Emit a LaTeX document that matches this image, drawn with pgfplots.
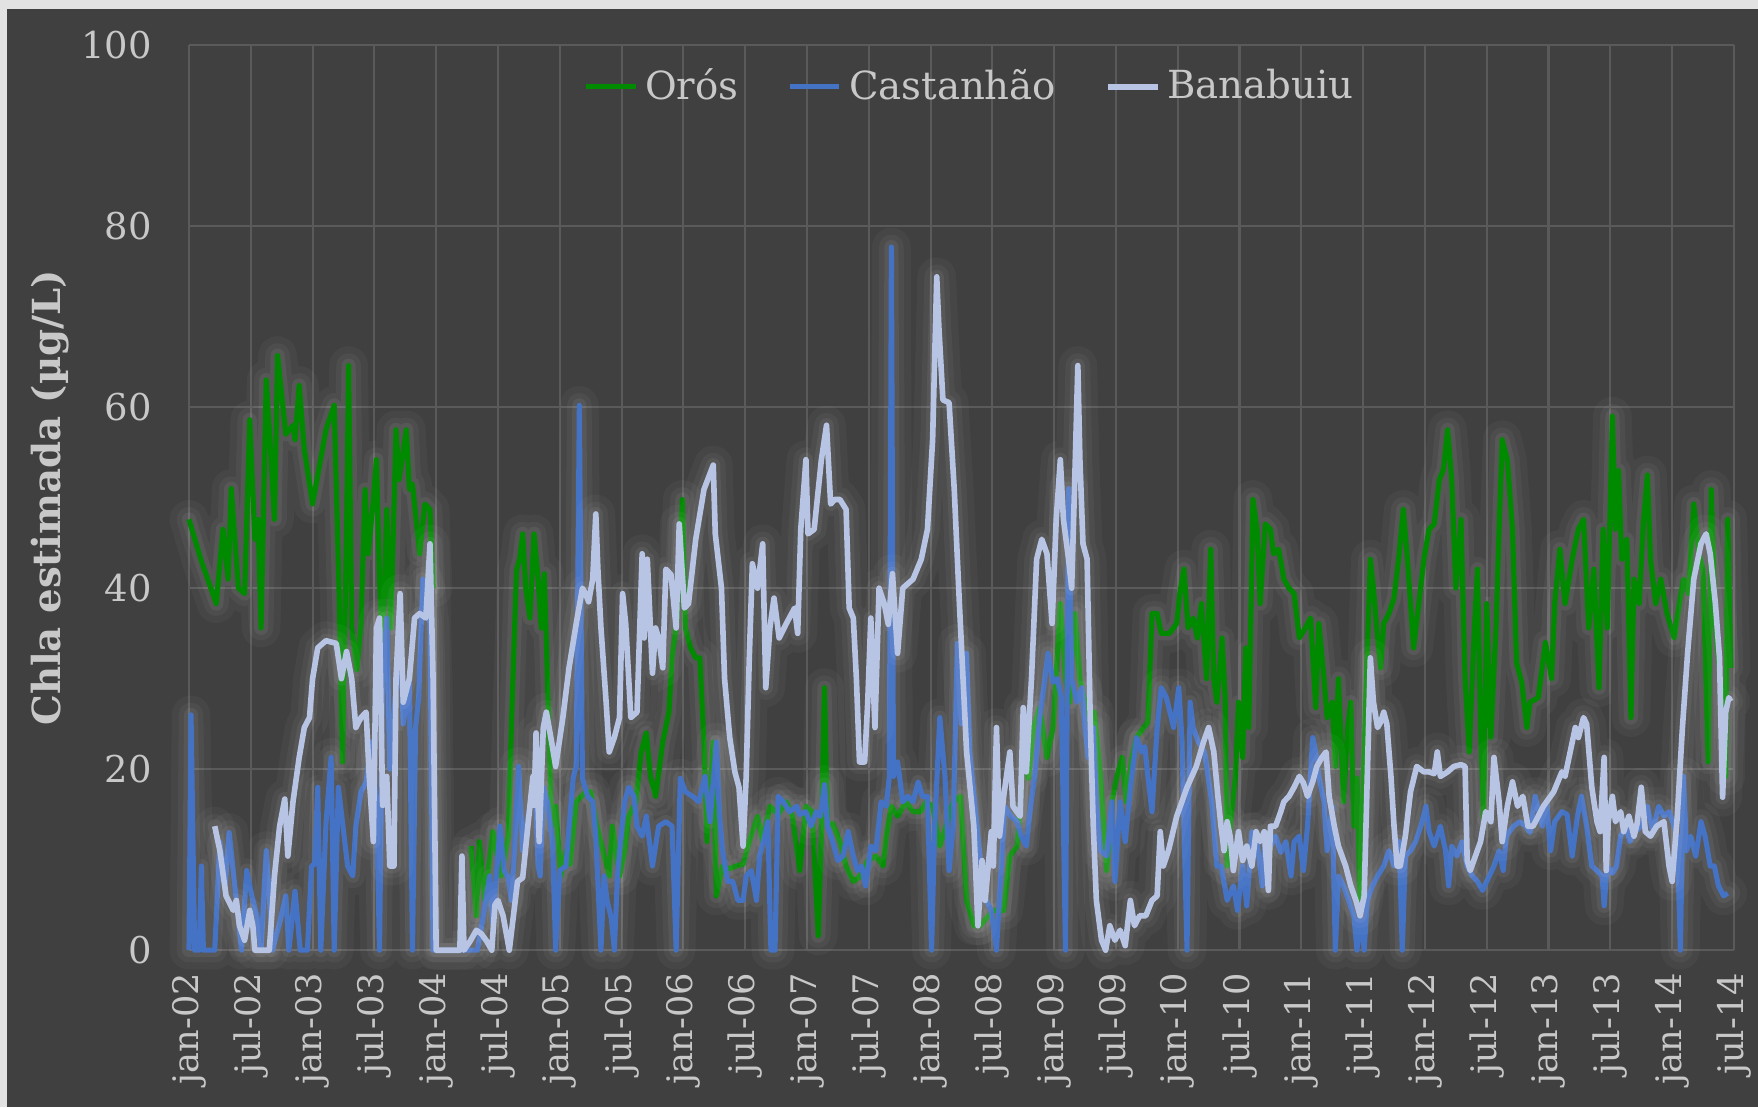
\documentclass[border=0pt]{standalone}
\usepackage{fontspec}
\setmainfont{DejaVu Serif}
\usepackage{pgfplots}
\usepackage{pgfplotstable}
\pgfplotsset{compat=1.18}

\definecolor{bg}{HTML}{404040}
\definecolor{edge}{HTML}{E2E2E2}
\definecolor{grd}{HTML}{5A5A5A}
\definecolor{axl}{HTML}{7F7F7F}
\definecolor{txt}{HTML}{C8C8C8}
\definecolor{oros}{HTML}{008A00}
\definecolor{cast}{HTML}{4472C4}
\definecolor{bana}{HTML}{B8C4E4}

% months since jan-02, Chla (ug/L)
\pgfplotstableread{
m v
0 47.6
1.2 43
2.65 38.3
3.3 46.5
3.8 41
4.1 51
4.8 40
5.4 39.4
5.9 58.6
6.4 45.4
6.7 47.6
7.0 35.6
7.5 63
7.8 57.5
8.3 47.6
8.6 65.7
9.4 57
10.1 58
10.3 56.4
10.7 62.4
11.2 55.3
12.0 49.3
13.3 57.5
14.1 60.2
14.6 38.3
14.9 20.8
15.3 46.5
15.5 64.6
15.8 35.6
16.3 31
16.7 36
17.1 50.9
17.4 43.8
17.9 49.8
18.2 54.2
18.5 41
18.8 32.8
19.2 48.7
19.6 35.6
20.1 57.5
20.4 52
21.1 57.5
21.4 50.9
21.7 51.5
22.4 43.8
22.9 49.3
23.4 48.7
23.7 40
25 nan
27.4 11.5
27.9 3.8
28.2 12
28.7 5.5
29.5 13.1
30.3 8.2
31.0 12.6
31.3 24.6
31.8 42
32.1 43.2
32.4 46
32.7 40
33.1 36.7
33.5 46
33.9 41
34.2 35.6
34.5 41.6
34.8 30
35.2 13.7
35.6 15.9
36.1 8.2
36.6 11
37.0 9.5
37.6 16.4
38.1 17
38.5 17.5
39.0 17.5
39.5 14.2
40.2 11
40.8 8.2
41.1 13.7
41.8 8.2
42.3 11
42.7 14.8
43.4 16.4
43.9 21.9
44.4 24
44.8 19.2
45.3 17
46.0 23
46.6 26.3
46.9 32.3
47.4 36.7
47.9 49.8
48.2 35.6
48.7 33.4
49.2 32.3
49.6 32.3
50.0 23
50.3 12
50.9 23
51.2 6
51.8 9.3
52.5 9
53.1 9.3
53.8 9.5
54.4 12
55.2 14.8
55.7 12
56.4 15.9
57.2 15
58.0 16.4
58.6 14.8
59.3 8.8
59.9 15.9
60.5 15.3
61.1 1.6
61.4 13
61.7 29
62.0 13.7
62.5 14
63.2 12
63.8 9.3
64.5 7.6
65.0 8
65.5 8.8
65.9 9.9
66.7 10.4
67.4 9.3
67.7 12.6
68.2 15.9
68.8 14.8
69.6 16.4
70.3 15.3
71.0 15.3
71.6 16.4
72.2 15.9
72.9 11.5
73.5 13.7
74.2 16.4
74.9 17
75.5 5.5
76.2 2.7
76.8 2.7
77.4 3.5
78.1 4.4
79.1 4.4
79.7 10.4
80.4 11.5
80.8 17.5
81.2 25.7
81.5 19
82.0 24.6
82.6 26.8
83.3 21.3
83.9 24.6
84.6 38.3
85.1 30
85.5 27.4
86.0 37.2
86.5 30
87.0 27.4
87.6 24.6
87.9 26.3
88.5 19.2
89.1 8.8
89.6 16.4
90.1 19.2
90.6 21.3
91.0 16.4
91.5 21
92.0 23.5
92.7 24.6
93.1 25.2
93.5 37.2
94.0 37.2
94.4 35
95.2 35
95.9 36.1
96.2 39.4
96.6 42.1
97.0 35.6
97.5 36.7
97.9 34.5
98.3 38.3
98.8 30
99.2 44.3
99.5 30
99.8 27.4
100.3 34.5
100.6 28
100.8 9.3
101.1 13.7
101.6 19.2
101.9 27.4
102.3 21.3
102.6 33.4
102.9 24.6
103.3 49.8
103.7 46.5
104.0 38.3
104.5 47.1
105.0 46.5
105.3 43.8
105.8 44.3
106.3 41
106.8 40
107.3 39.4
107.8 34.5
108.4 35.6
108.9 36.7
109.4 26.8
109.7 36.1
110.2 30
110.5 25.7
111.0 27.4
111.3 20.3
111.6 30
112.1 16.4
112.5 24.6
112.8 27.4
113.1 13.7
113.4 19
113.7 5.5
114.1 21.9
114.4 32.8
114.7 43.2
115.0 40
115.4 34.5
115.7 31.2
116.0 36.1
116.5 37.2
117.0 38.9
117.5 43.8
117.9 48.7
118.3 43.2
118.6 38.3
118.9 33.4
119.4 38.3
119.9 43.2
120.4 46.5
120.9 47.1
121.4 52
121.8 53.1
122.2 57.5
122.6 52
123.0 40
123.5 47.6
123.9 30
124.3 21.9
124.8 35.6
125.1 42.1
125.4 24.6
125.7 14.5
126.0 38.3
126.4 23.5
126.9 35.6
127.2 46.5
127.5 56.4
128.0 54.2
128.5 46.5
128.9 31.7
129.4 29.6
129.9 24.6
130.2 27.4
131.0 27.9
131.7 34
132.3 30
132.6 38.3
133.1 44.3
133.6 38.3
134.3 43.2
134.9 46.5
135.4 47.6
135.9 35.6
136.4 42.1
136.9 29
137.3 46.5
137.7 35.6
138.2 59
138.5 46.5
138.8 53
139.1 43.2
139.6 45.4
140.0 25.7
140.3 41
140.8 38.3
141.2 47.1
141.6 52.5
141.9 43.2
142.4 38.3
142.9 41
143.5 37.2
144.2 34.5
144.7 38.3
145.1 41
145.6 39.4
146.1 49.3
146.6 43.8
147.0 42
147.5 20.8
147.8 50.9
148.2 35.6
148.7 30
149.2 19.2
149.4 47.6
149.7 31.2
}\oros

\pgfplotstableread{
m v
0 0
0.2 26
0.55 0
1.0 0
1.2 9.3
1.4 0
2.5 0
3.0 12
3.5 7
3.9 13
4.6 5.5
5.1 0
5.6 8.8
6.1 6
6.6 3.8
7.0 0
7.5 11
7.8 6
8.1 0
8.8 3
9.4 6
9.7 0
10.3 6.5
10.8 0
11.5 0
11.9 9.3
12.2 9.5
12.5 18
12.8 0
13.3 14
13.8 21.3
14.1 0
14.5 18
14.95 13.7
15.4 9.3
15.9 8.2
16.2 13.7
16.7 17.5
17.2 18.6
17.7 23
18.2 16
18.5 0
18.8 30
19.2 36.7
19.5 20
20.1 29
20.5 35
20.8 25
21.4 30
21.7 0
22.0 24.6
22.3 27.9
22.7 41
23.0 40
23.4 36
23.7 0
28.0 0
28.6 4
29.2 8.2
29.5 3
30.2 13.7
30.6 8.8
31.0 8
31.3 5.5
31.6 11
32.0 20.3
32.4 11
32.8 14
33.2 16.4
33.6 19
33.9 9.3
34.1 8.2
34.4 18
34.8 16.4
35.3 12
35.6 0
36.0 8.8
36.6 9.3
37.3 19
37.6 20.3
37.9 60.2
38.2 19
38.7 17
39.2 16.4
39.5 12.6
40.0 0
40.3 8.2
40.6 5.5
41.0 3.5
41.3 0
41.6 8.2
41.9 12
42.3 16.4
42.7 18
43.2 17
43.5 13.7
44.0 12.6
44.4 14.8
45.0 9.3
45.6 13.7
46.3 14.2
46.9 13.7
47.3 0
47.7 19
48.2 17.5
48.9 17
49.5 16.4
50.1 19.2
50.6 14.2
51.2 23
51.5 15
51.8 11
52.3 7.6
52.8 7.6
53.3 5.5
53.8 5.5
54.1 8.2
54.6 8.8
55.1 5.5
55.4 10.4
55.9 12.6
56.2 14.2
56.5 0
56.9 0
57.2 17
57.7 16.4
58.3 15.3
59.0 15.9
59.3 15
59.9 15.3
60.4 13.7
60.9 15.3
61.3 14.8
61.7 18.3
62.0 13.7
62.5 12
63.0 9.9
63.5 10.4
64.0 13.1
64.5 10.4
64.9 8.8
65.3 9.3
65.7 7.1
66.2 11.5
66.7 11
67.2 16.4
67.7 15.9
68.0 19.2
68.2 77.7
68.4 19.2
68.8 20.8
69.3 16.4
69.8 17
70.3 16.4
70.8 18.6
71.2 17
71.7 17
72.1 0
72.4 13.7
72.9 25.7
73.4 19.2
73.8 8.8
74.2 13.7
74.6 33.9
75.0 25
75.5 32.8
75.8 21.9
76.5 13.7
77.0 8.2
77.4 5.5
77.9 4.4
78.4 0
78.9 9.9
79.2 15.9
79.8 14.8
80.4 14.2
80.8 12.6
81.3 11.5
81.6 14.8
82.1 19.2
82.6 25.7
83.1 30
83.4 32.8
83.9 29.6
84.3 30
84.7 27.9
85.1 0
85.4 51
85.7 30
86.2 27.4
86.7 29
87.0 24.6
87.3 21.3
87.8 24.6
88.1 16.4
88.5 11
89.1 10.4
89.6 16.4
89.9 7.6
90.4 16.4
90.9 12
91.4 18
92.0 23.5
92.5 21.9
92.8 22.5
93.1 19.2
93.5 15.3
94.0 24.6
94.4 29
94.9 27.9
95.6 24.6
96.1 29
96.4 23.5
96.9 0
97.2 27.4
97.5 24.6
98.0 23
98.6 21.9
99.3 16.4
99.8 9.3
100.2 9.3
100.8 5.5
101.4 7.1
101.8 4.4
102.3 9.3
102.7 4.9
103.2 13.1
103.7 12
104.2 7.1
104.5 12.6
105.0 11.5
105.5 12.6
106.0 10.8
106.5 12
107.0 8.2
107.3 12
107.8 12.6
108.2 8.8
108.6 13.7
109.1 23.5
109.4 21.9
109.7 19.2
110.2 16.4
110.5 11
111.0 15.9
111.3 0
111.6 8.2
112.1 7.1
112.6 5.5
113.1 3.8
113.4 0
113.7 3.8
114.1 0
114.4 5.5
114.9 7.1
115.4 8.2
116.0 9.3
116.5 11
117.0 9.3
117.5 12
117.8 0
118.1 10.4
118.6 11
119.1 12
119.6 13.7
120.1 15.9
120.4 13.1
120.9 11.5
121.5 13.7
122.0 11
122.3 7.1
122.6 11.5
123.1 10.4
123.6 12
124.1 9.3
124.6 8.2
125.1 7.6
125.6 6.6
126.0 7.6
126.7 9.3
127.2 11
127.6 8.8
127.9 12.6
128.6 13.7
129.2 14.2
129.8 13.7
130.2 13
130.7 17
131.4 13.7
131.8 16.4
132.2 11
132.6 14.2
133.3 15.3
133.8 15
134.3 10.4
134.8 14.8
135.2 17
135.7 13.7
136.2 9.3
136.7 8.8
137.2 8.2
137.4 4.9
137.7 9.3
138.2 8.5
138.6 9.3
139.0 12.6
139.5 13.7
139.9 12
140.4 13.1
141.0 13.7
141.6 15.9
142.1 13.1
142.7 15.9
143.2 14.8
143.7 15.3
144.2 13.7
144.5 12.6
144.8 0
145.1 19.2
145.4 11
145.8 12.6
146.3 10.4
146.8 14.2
147.2 12.6
147.7 9.3
148.1 9.3
148.5 7.1
149.0 6
149.4 6.3
}\castanhao

\pgfplotstableread{
m v
2.5 13.7
3.0 11
3.6 6
4.3 4.4
4.6 5.5
4.9 2.7
5.4 1.1
5.9 4.4
6.2 2.7
6.4 0
7.8 0
8.3 8.2
8.8 13.7
9.3 16.7
9.6 10.4
10.1 16.4
10.7 21.3
11.2 24.6
11.7 25.7
12.0 30
12.5 33.4
13.3 34.2
14.3 33.9
14.8 30
15.3 33
15.8 30
16.2 24.6
16.7 25.7
17.2 26.3
17.5 19.2
17.9 12
18.2 35.6
18.5 36.7
18.8 16
19.2 19.2
19.5 9.3
19.9 9.3
20.1 30
20.5 39.4
20.8 27.4
21.4 30
21.9 36.7
22.4 37.2
23.0 36.7
23.4 44.9
23.7 30
24.0 0
26.3 0
26.5 10.4
26.7 0
27.3 1
27.9 2.2
28.4 1.8
28.9 1
29.4 0
29.7 5
30.0 5.5
30.5 3.8
31.1 0
31.5 3.8
31.9 7.6
32.4 8
32.9 13.7
33.4 19.2
33.5 16
33.7 24
34.0 12
34.4 24.6
34.7 26.3
35.3 22.4
35.6 20.3
36.3 25.7
36.9 31.2
37.6 36.1
38.2 40
38.5 39.4
38.8 38.5
39.2 41
39.5 48.2
39.7 42.1
40.0 35.6
40.5 27.4
40.8 21.9
41.3 23.5
41.8 25.7
42.1 39.4
42.4 36.1
42.9 25.7
43.5 26.3
44.0 43.8
44.2 34.5
44.5 43.2
45.0 30.6
45.3 35.6
45.6 34.5
46.0 31.2
46.3 42.1
46.8 41.5
47.3 35.6
47.6 47.1
48.1 37.8
48.5 38.3
49.2 45.4
50.0 50.9
50.9 53.6
51.1 46
51.7 40
52.0 30
52.5 23.5
53.0 19.7
53.4 18
53.8 11.5
54.1 19.2
54.4 32.3
54.7 42.7
55.2 40
55.7 44.9
56.0 29
56.4 35.6
56.8 38.9
57.3 34.5
58.0 36.1
58.8 37.8
59.1 35
59.4 46.5
59.9 54.2
60.1 46
60.7 46.5
61.4 54.2
61.9 58
62.3 49.3
62.7 49.8
63.2 49.8
63.8 48.7
64.1 37.8
64.5 36.7
64.8 30
65.1 20.8
65.6 20.8
65.9 27.4
66.2 36.7
66.6 24.6
67.0 40
67.5 38.3
67.9 36
68.3 41.6
68.8 32.8
69.3 40
70.3 41
71.1 43.2
71.7 46.5
72.2 56.4
72.6 74.4
72.8 69
73.2 60.8
73.8 60.5
74.3 50.9
74.8 38.3
75.5 21.9
76.2 13.7
76.6 2.7
77.0 9.9
77.3 5.5
77.6 9.3
77.9 13.1
78.1 9.3
78.4 24.6
78.7 12.6
79.1 17
79.7 21.9
80.0 15.9
80.7 14.8
81.0 26.8
81.3 19.7
81.8 30
82.3 43.2
82.8 45.4
83.3 43.8
83.8 36.1
84.2 47.6
84.6 54.2
84.9 47.6
85.4 43.2
85.7 40
86.0 52
86.3 64.6
86.5 54.2
86.8 44.9
87.2 43.2
87.5 25.7
87.8 13.7
88.1 5.5
88.6 1.1
89.0 0
89.4 2.7
89.9 1.1
90.4 2.2
90.9 0.5
91.4 5.5
91.8 2.7
92.3 3.8
92.9 3.8
93.5 5.5
94.0 6
94.3 13.1
94.6 9.3
95.1 11
95.9 14.8
96.9 18
97.8 20.3
98.5 23
99.0 24.6
99.5 21.9
99.9 17
100.2 13.7
100.5 11
100.8 14.2
101.1 12.5
101.4 8.8
101.9 13.1
102.3 9.9
102.7 11.5
103.2 9.3
103.6 13.1
104.0 12
104.4 13.1
104.8 6.6
105.0 13.7
105.5 13.7
106.0 15.3
106.3 16.4
106.8 17
107.3 18
107.8 19.2
108.2 18.5
108.6 17
109.1 18.6
109.5 20.3
110.0 21.3
110.4 21.9
110.7 17
111.2 13.7
111.6 11.5
112.3 9.3
112.8 7.1
113.3 5.5
113.7 3.8
114.1 6
114.4 19.2
114.7 32.3
115.0 27.4
115.4 24.6
115.7 25.2
116.0 26.3
116.3 25
116.7 19.2
117.0 13.7
117.3 9.3
117.6 9.3
118.1 12.6
118.6 17.5
119.2 20.3
119.9 19.7
120.4 19.7
120.9 19.5
121.2 21.9
121.5 19.2
122.2 19.7
122.8 20.3
123.5 20.5
123.9 20.3
124.1 9.9
124.4 8.8
124.9 10.4
125.4 12
125.9 15.3
126.4 14.2
126.7 21.3
127.2 16.4
127.5 12
128.0 15.9
128.5 18.6
129.0 15.9
129.5 17
130.0 13.7
130.5 13.7
131.5 15.9
132.5 17.5
133.3 19.7
133.6 19.2
134.1 21.9
134.6 24.6
134.9 23.5
135.4 25.7
135.7 25
136.2 18
136.7 14.2
137.0 13.1
137.4 21.3
137.6 8.8
137.8 14.2
138.2 17
138.5 14.2
139.0 15.3
139.3 13.1
139.8 14.8
140.3 12.6
140.6 14
141.0 18
141.4 13.1
141.9 12.6
142.5 13.7
143.2 14.2
143.7 9.3
144.0 7.6
144.5 14.8
145.0 24.6
145.5 32.8
146.1 41
146.8 44.9
147.3 46
147.7 43.8
148.2 38.3
148.6 32.3
148.9 16.9
149.2 26.3
149.5 27.9
149.7 27.5
}\banabuiu

\begin{document}
\begin{tikzpicture}
\useasboundingbox (0,0) rectangle (500pt,314.9pt);
\fill[edge] (0,0) rectangle (500pt,314.9pt);
\fill[bg] (2pt,0) rectangle (500pt,312.3pt);
\begin{axis}[
    at={(53.75pt,44.65pt)}, anchor=south west,
    scale only axis,
    width=439.4pt, height=257.4pt,
    xmin=0, xmax=150, ymin=0, ymax=100,
    clip=false,
    unbounded coords=jump,
    axis line style={draw=none},
    major tick length=0pt,
    grid=major,
    major grid style={grd, line width=0.6pt},
    xtick={0,6,...,150},
    xticklabels={jan-02,jul-02,jan-03,jul-03,jan-04,jul-04,jan-05,jul-05,jan-06,jul-06,jan-07,jul-07,jan-08,jul-08,jan-09,jul-09,jan-10,jul-10,jan-11,jul-11,jan-12,jul-12,jan-13,jul-13,jan-14,jul-14},
    ytick={0,20,...,100},
    extra y ticks={0},
    extra y tick labels={},
    extra y tick style={grid style={axl, line width=0.7pt}},
    /pgf/number format/assume math mode=true,
    ticklabel style={text=txt, font=\fontsize{10.5}{12}\selectfont},
    x tick label style={rotate=90, anchor=east, font=\fontsize{10}{12}\selectfont},
    xticklabel shift=3pt,
    y tick label style={xshift=-7pt},
    ylabel={\bfseries Chla estimada (µg/L)},
    every axis y label/.style={at={(axis description cs:-0.09,0.5)}, rotate=90, anchor=center, text=txt, font=\fontsize{11}{13}\selectfont},
    legend columns=3,
    legend style={at={(0.507,0.954)}, anchor=center, draw=none, fill=none, text=txt,
        font=\fontsize{11}{13}\selectfont,
        /tikz/every even column/.append style={column sep=12pt}},
    legend image code/.code={\draw[#1] (0pt,0pt) -- (14pt,0pt);},
    haloA/.style={forget plot, white, line join=round, line cap=round, opacity=0.035, line width=11pt},
    haloB/.style={forget plot, white, line join=round, line cap=round, opacity=0.045, line width=7pt},
    haloC/.style={forget plot, white, line join=round, line cap=round, opacity=0.06, line width=4pt},
    series/.style={line join=round, line width=1.45pt, no marks},
]
\addplot[haloA] table[x=m, y=v] {\oros};
\addplot[haloB] table[x=m, y=v] {\oros};
\addplot[haloC] table[x=m, y=v] {\oros};
\addplot[series, oros] table[x=m, y=v] {\oros};
\addlegendentry{Orós}
\addplot[haloA] table[x=m, y=v] {\castanhao};
\addplot[haloB] table[x=m, y=v] {\castanhao};
\addplot[haloC] table[x=m, y=v] {\castanhao};
\addplot[series, cast] table[x=m, y=v] {\castanhao};
\addlegendentry{Castanhão}
\addplot[haloA] table[x=m, y=v] {\banabuiu};
\addplot[haloB] table[x=m, y=v] {\banabuiu};
\addplot[haloC] table[x=m, y=v] {\banabuiu};
\addplot[series, bana, line width=1.6pt] table[x=m, y=v] {\banabuiu};
\addlegendentry{Banabuiu}
\end{axis}
\end{tikzpicture}
\end{document}
